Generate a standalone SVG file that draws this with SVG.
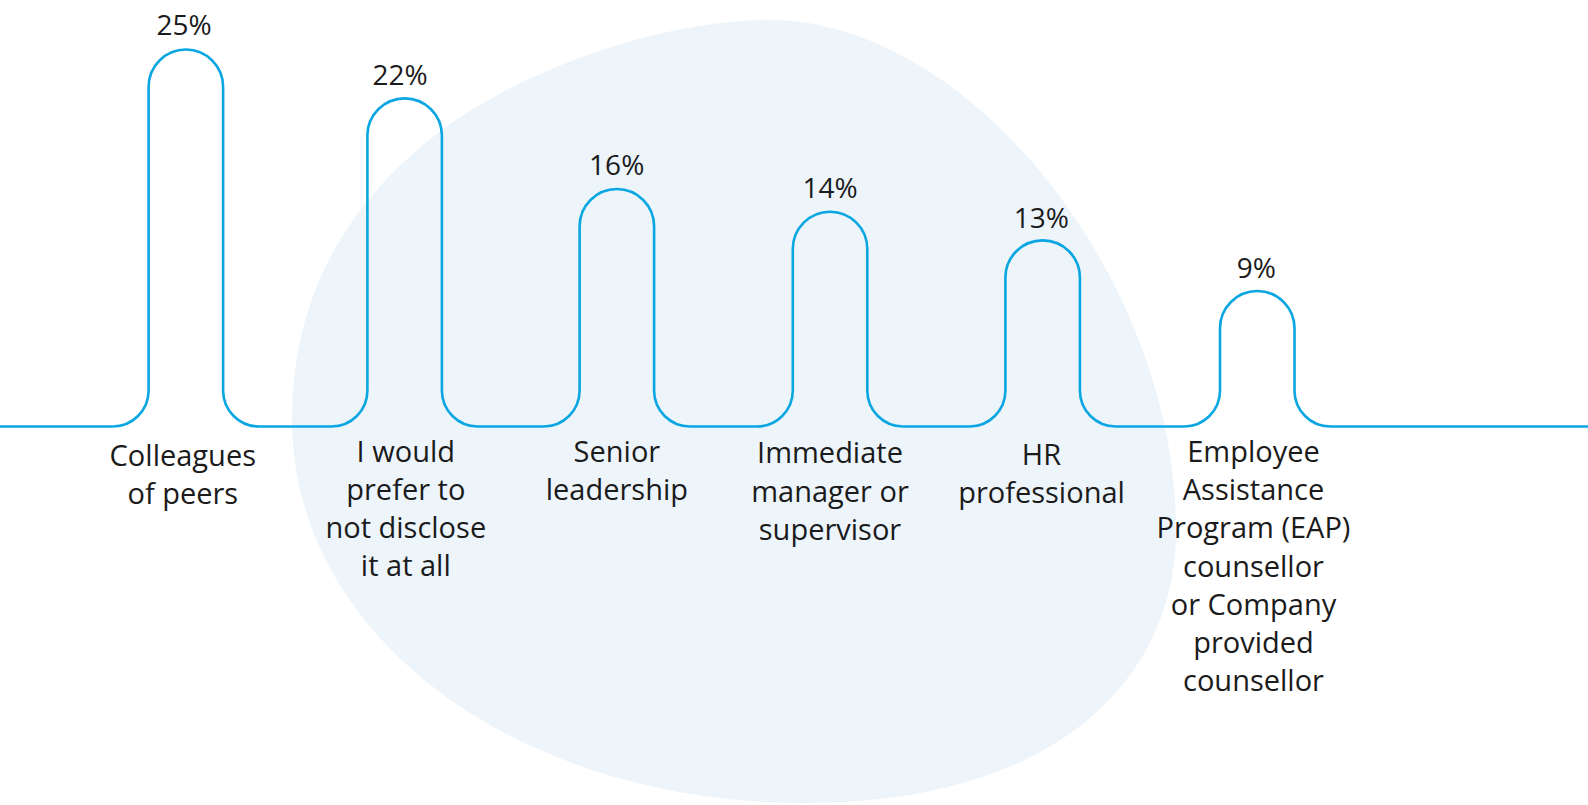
<svg xmlns="http://www.w3.org/2000/svg" width="1588" height="805" viewBox="0 0 1588 805">
<style>
.pct{font-family:"Open Sans","Noto Sans","Liberation Sans",sans-serif;font-size:28px;fill:#1b1b1b;text-anchor:middle}
.lbl{font-family:"Open Sans","Noto Sans","Liberation Sans",sans-serif;font-size:29px;fill:#1b1b1b;text-anchor:middle}
.wave{fill:none;stroke:#0aa6e2;stroke-width:2.6}
</style>
<rect width="1588" height="805" fill="#ffffff"/>
<g id="blob">
<path d="M770,20 C970,20 1176,280 1176,530 C1176,680 1055,803 805,803 C515,803 292,635 292,420 C292,280 362,190 442,130 C522,70 660,20 770,20 Z" fill="#edf5fb"/>
</g>
<g id="connectors">
<path class="wave" d="M0,426.5 H112.6 A36,36 0 0 0 148.6,390.5 V86.8 A37.25,37.25 0 0 1 223.1,86.8 V390.5 A36,36 0 0 0 259.1,426.5 H331.4 A36,36 0 0 0 367.4,390.5 V135.6 A37.25,37.25 0 0 1 441.9,135.6 V390.5 A36,36 0 0 0 477.9,426.5 H543.6 A36,36 0 0 0 579.6,390.5 V226.3 A37.25,37.25 0 0 1 654.1,226.3 V390.5 A36,36 0 0 0 690.1,426.5 H756.8 A36,36 0 0 0 792.8,390.5 V249 A37.25,37.25 0 0 1 867.3,249 V390.5 A36,36 0 0 0 903.3,426.5 H969.4 A36,36 0 0 0 1005.4,390.5 V277.6 A37.25,37.25 0 0 1 1079.9,277.6 V390.5 A36,36 0 0 0 1115.9,426.5 H1184 A36,36 0 0 0 1220,390.5 V328.3 A37.25,37.25 0 0 1 1294.5,328.3 V390.5 A36,36 0 0 0 1330.5,426.5 H1588"/>
</g>
<g id="item-colleagues">
<text class="pct" x="184" y="34.5">25%</text>
<text class="lbl" x="182.8" y="466">Colleagues</text>
<text class="lbl" x="182.8" y="503.5">of peers</text>
</g>
<g id="item-not-disclose">
<text class="pct" x="400" y="85">22%</text>
<text class="lbl" x="405.8" y="462.3">I would</text>
<text class="lbl" x="405.8" y="500.3">prefer to</text>
<text class="lbl" x="405.8" y="538.3">not disclose</text>
<text class="lbl" x="405.8" y="576.3">it at all</text>
</g>
<g id="item-senior">
<text class="pct" x="616.7" y="175">16%</text>
<text class="lbl" x="616.9" y="462.3">Senior</text>
<text class="lbl" x="616.9" y="500.3">leadership</text>
</g>
<g id="item-manager">
<text class="pct" x="830" y="198.3">14%</text>
<text class="lbl" x="830" y="463">Immediate</text>
<text class="lbl" x="830" y="501.5">manager or</text>
<text class="lbl" x="830" y="540">supervisor</text>
</g>
<g id="item-hr">
<text class="pct" x="1041.3" y="228.3">13%</text>
<text class="lbl" x="1041.5" y="465">HR</text>
<text class="lbl" x="1041.5" y="502.5">professional</text>
</g>
<g id="item-eap">
<text class="pct" x="1256.3" y="278.3">9%</text>
<text class="lbl" x="1253.5" y="462">Employee</text>
<text class="lbl" x="1253.5" y="500.2">Assistance</text>
<text class="lbl" x="1253.5" y="538.4">Program (EAP)</text>
<text class="lbl" x="1253.5" y="576.6">counsellor</text>
<text class="lbl" x="1253.5" y="614.8">or Company</text>
<text class="lbl" x="1253.5" y="653">provided</text>
<text class="lbl" x="1253.5" y="691.2">counsellor</text>
</g>
</svg>
